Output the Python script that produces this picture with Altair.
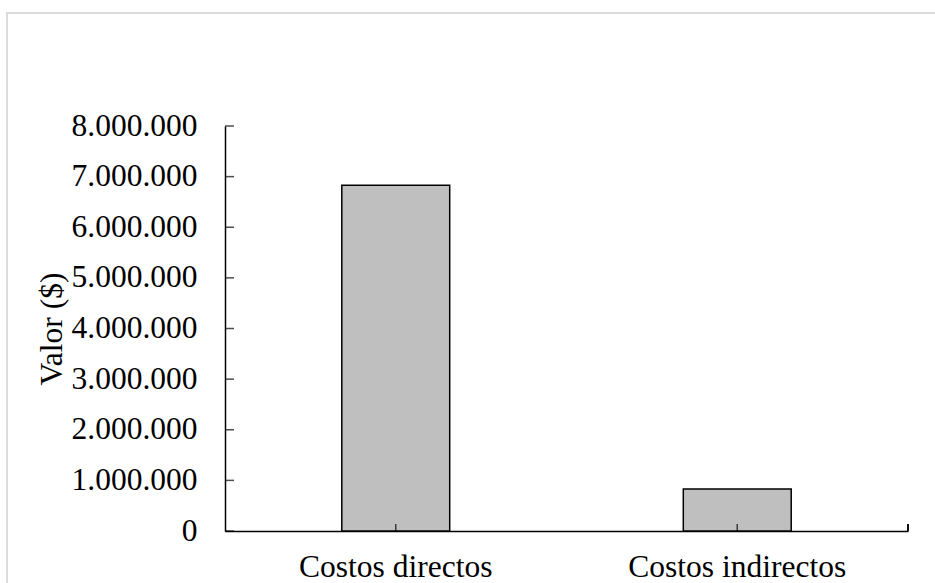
import altair as alt
import pandas as pd

# Cost categories and their values in pesos
categories = ["Costos directos", "Costos indirectos"]
values = [6830000, 830000]

# Y axis tick values
y_ticks = [0, 1000000, 2000000, 3000000, 4000000, 5000000, 6000000, 7000000, 8000000]

W, H = 683, 405
FONT = "Liberation Serif"

bars_df = pd.DataFrame({"categoria": categories, "valor": values})
ticks_df = pd.DataFrame({"valor": y_ticks})

x_scale = alt.Scale(domain=categories, paddingInner=0.684, paddingOuter=0.342)
y_scale = alt.Scale(domain=[0, 8000000], nice=False)

bars = alt.Chart(bars_df).mark_bar(
    fill="#bfbfbf", stroke="black", strokeWidth=1.5
).encode(
    x=alt.X(
        "categoria:N",
        scale=x_scale,
        sort=categories,
        axis=alt.Axis(
            title=None,
            labelAngle=0,
            labelFont=FONT,
            labelFontSize=31.5,
            labelColor="black",
            labelPadding=20,
            labelLimit=0,
            labelOverlap=False,
            ticks=False,
            tickSize=0,
            domainColor="black",
            domainWidth=1.5,
            grid=False,
        ),
    ),
    y=alt.Y(
        "valor:Q",
        scale=y_scale,
        axis=alt.Axis(
            title="Valor ($)",
            titleFont=FONT,
            titleFontSize=31.5,
            titleFontWeight="normal",
            titleColor="black",
            titleX=-164,
            titleY=H / 2,
            titleBaseline="alphabetic",
            titleAlign="center",
            values=y_ticks,
            labelExpr="replace(format(datum.value, ',d'), /,/g, '.')",
            labelFont=FONT,
            labelFontSize=31.5,
            labelColor="black",
            labelPadding=28,
            labelLimit=0,
            labelOverlap=False,
            ticks=False,
            tickSize=0,
            domainColor="black",
            domainWidth=1.5,
            grid=False,
        ),
    ),
)

# Inward-pointing ticks on the value axis
y_tick_marks = alt.Chart(ticks_df).mark_tick(
    orient="horizontal", size=9, thickness=1.5, color="black"
).encode(
    y=alt.Y("valor:Q", scale=y_scale),
    x=alt.value(4.5),
)

# Inward-pointing ticks under each category
x_tick_marks = alt.Chart(bars_df).mark_tick(
    orient="vertical", size=7, thickness=1.5, color="black"
).encode(
    x=alt.X("categoria:N", scale=x_scale, sort=categories),
    y=alt.value(H - 3.5),
)

# Closing tick at the right end of the category axis
end_tick = alt.Chart(bars_df).mark_rule(color="black", strokeWidth=1.5).encode(
    x=alt.value(W), y=alt.value(H), y2=alt.value(H - 7)
)

# Light frame around the chart
frame = alt.Chart(bars_df).mark_rect(
    fill=None, stroke="#d9d9d9", strokeWidth=1.5
).encode(
    x=alt.value(-218), x2=alt.value(W + 60), y=alt.value(-113), y2=alt.value(H + 80)
)

chart = alt.layer(frame, bars, y_tick_marks, x_tick_marks, end_tick).properties(
    width=W,
    height=H,
    padding={"left": 225, "top": 126, "right": 27, "bottom": 52},
    autosize=alt.AutoSizeParams(type="none"),
    background="white",
).configure_view(stroke=None)

chart.save("out.html", embed_options={"renderer": "svg", "actions": False})
